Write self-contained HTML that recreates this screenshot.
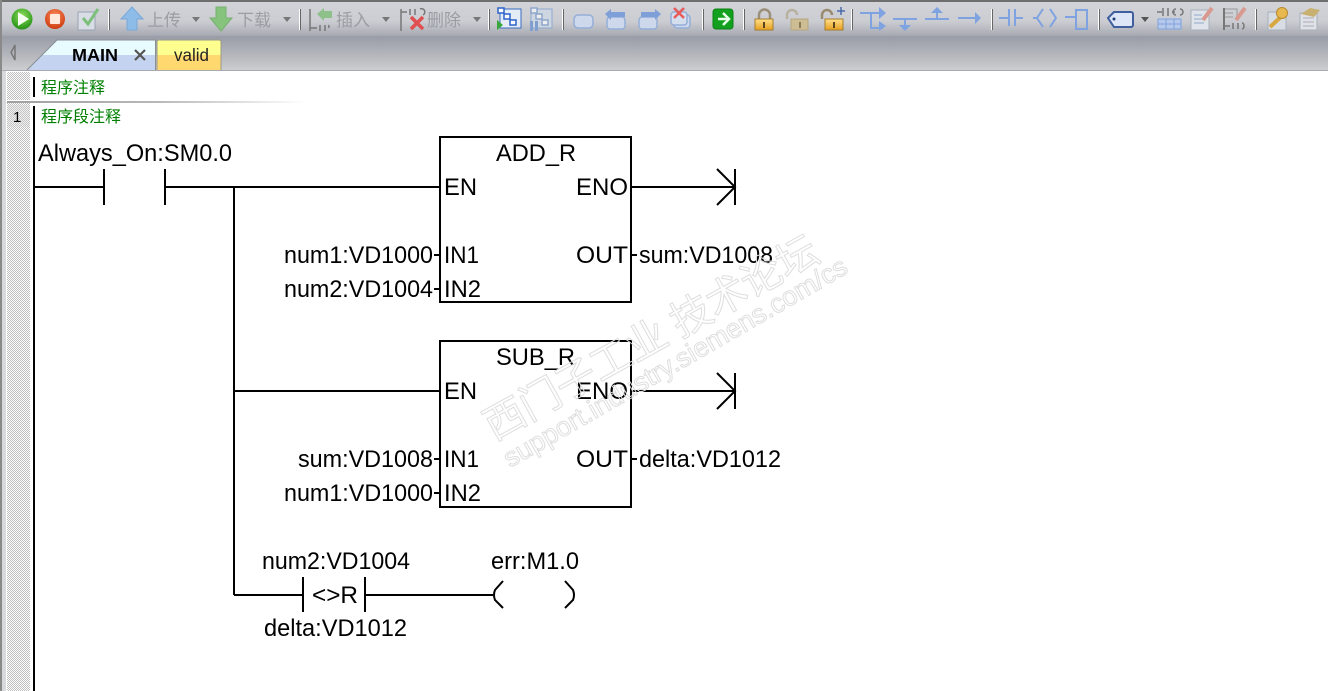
<!DOCTYPE html>
<html><head><meta charset="utf-8"><style>
html,body{margin:0;padding:0;background:#fff;width:1328px;height:691px;overflow:hidden}
svg{display:block}
.t{font-family:"Liberation Sans",sans-serif;font-size:23.7px;fill:#000}
.g{font-family:"Liberation Sans","Noto Sans CJK SC",sans-serif;font-size:16px;fill:#008000}
.c{font-family:"Liberation Sans","Noto Sans CJK SC",sans-serif;font-size:17px;fill:#9a9da3}
.w{fill:none;stroke:#dedede;stroke-width:1}
.l{fill:none;stroke:#7ea3e0;stroke-width:2}
</style></head><body>
<svg xmlns="http://www.w3.org/2000/svg" width="1328" height="691" viewBox="0 0 1328 691">
<defs>
<linearGradient id="tb" x1="0" y1="0" x2="0" y2="1">
<stop offset="0" stop-color="#d2d4d9"/><stop offset=".3" stop-color="#cbcdd2"/><stop offset=".49" stop-color="#a9acb4"/><stop offset=".52" stop-color="#999da7"/><stop offset=".8" stop-color="#b7b9be"/><stop offset="1" stop-color="#cdcfd1"/>
</linearGradient>
<linearGradient id="sep" x1="0" y1="0" x2="1" y2="0"><stop offset="0" stop-color="#a0a0a0"/><stop offset=".5" stop-color="#b8b8b8"/><stop offset="1" stop-color="#fff"/></linearGradient>
<pattern id="chk" width="2" height="2" patternUnits="userSpaceOnUse"><rect width="2" height="2" fill="#fff"/><rect width="1" height="1" fill="#bdbdbd"/><rect x="1" y="1" width="1" height="1" fill="#bdbdbd"/></pattern>
<radialGradient id="gr" cx=".5" cy=".35" r=".7"><stop offset="0" stop-color="#8ee05a"/><stop offset="1" stop-color="#1c8a12"/></radialGradient>
<radialGradient id="rd" cx=".5" cy=".35" r=".7"><stop offset="0" stop-color="#ff9060"/><stop offset="1" stop-color="#c83208"/></radialGradient>
<linearGradient id="lock" x1="0" y1="0" x2="0" y2="1"><stop offset="0" stop-color="#ffe08a"/><stop offset="1" stop-color="#e8a020"/></linearGradient>
</defs>

<!-- toolbar -->
<rect x="0" y="0" width="1328" height="71" fill="url(#tb)"/>
<rect x="0" y="0" width="1328" height="2" fill="#6e6e6e"/>
<rect x="0" y="70" width="1328" height="1" fill="#a8aab0"/>
<rect x="0" y="71" width="6" height="620" fill="#d8d9dc"/>
<rect x="0" y="0" width="2" height="691" fill="#8a8a8a"/>

<!-- separators -->
<g fill="#fff"><rect x="108" y="9" width="1" height="21"/><rect x="299" y="9" width="1" height="21"/><rect x="488" y="9" width="1" height="21"/><rect x="562" y="9" width="1" height="21"/><rect x="702" y="9" width="1" height="21"/><rect x="743" y="9" width="1" height="21"/><rect x="851" y="9" width="1" height="21"/><rect x="991" y="9" width="1" height="21"/><rect x="1098" y="9" width="1" height="21"/><rect x="1255" y="9" width="1" height="21"/></g>
<g fill="#666"><rect x="109" y="9" width="1" height="21"/><rect x="300" y="9" width="1" height="21"/><rect x="489" y="9" width="1" height="21"/><rect x="563" y="9" width="1" height="21"/><rect x="703" y="9" width="1" height="21"/><rect x="744" y="9" width="1" height="21"/><rect x="852" y="9" width="1" height="21"/><rect x="992" y="9" width="1" height="21"/><rect x="1099" y="9" width="1" height="21"/><rect x="1256" y="9" width="1" height="21"/></g>

<!-- run/stop/check -->
<circle cx="22" cy="19" r="10.5" fill="url(#gr)"/><polygon points="18,12 29,19 18,26" fill="#f4fff0"/>
<circle cx="55" cy="19" r="10" fill="url(#rd)"/><rect x="50" y="14" width="10" height="10" rx="1" fill="#ffe8dc"/>
<rect x="78" y="12" width="17" height="18" fill="#d8dde6" stroke="#9aa3b2"/><path d="M83 18l5 6 10-15" fill="none" stroke="#7cc07c" stroke-width="3"/>

<!-- upload / download -->
<path d="M132 7l11 12h-6v11h-10V19h-6z" fill="#8dbce8" stroke="#7aa8d8"/>
<text class="c" x="147" y="26" textLength="34">上传</text>
<polygon points="192,17 200,17 196,22" fill="#777"/>
<path d="M221 31l11-13h-6V7h-10v11h-6z" fill="#86c47e" stroke="#78b070"/>
<text class="c" x="237" y="26" textLength="34">下载</text>
<polygon points="283,17 291,17 287,22" fill="#777"/>

<!-- insert -->
<g stroke="#777" stroke-width="1.5" fill="none"><path d="M310 9v22M310 28h7M320 25v6M325 25v6M329 28a2 3 0 0 1 0-3"/></g>
<path d="M317 14l7-6v3h8v7h-8v3z" fill="#8ec08a"/>
<text class="c" x="336" y="26" textLength="34">插入</text>
<polygon points="382,17 390,17 386,22" fill="#777"/>
<!-- delete -->
<g stroke="#777" stroke-width="1.5" fill="none"><path d="M401 9v22M401 12h6M410 9v6M415 9v6M420 9a3 3 0 0 1 3 6"/></g>
<path d="M411 17l12 12M423 17l-12 12" stroke="#e05050" stroke-width="3.5"/>
<text class="c" x="427" y="26" textLength="34">删除</text>
<polygon points="473,17 481,17 477,22" fill="#777"/>

<!-- network icons -->
<rect x="500" y="9" width="21" height="19" fill="#e4ecf6" stroke="#3a6cc4"/><g fill="#fff" stroke="#2c62cc" stroke-width="1.5"><rect x="498" y="8" width="6" height="5"/><rect x="504" y="14" width="6" height="5"/><rect x="510" y="20" width="6" height="5"/></g><polygon points="497,20 503,25 497,30" fill="#38a838"/>
<rect x="531" y="9" width="21" height="19" fill="#ced6e2" stroke="#90a8d0"/><g fill="#eee" stroke="#8ea6cc" stroke-width="1.5"><rect x="531" y="8" width="6" height="5"/><rect x="536" y="14" width="6" height="5"/><rect x="542" y="20" width="6" height="5"/></g><rect x="530" y="21" width="3" height="10" fill="#7f9fd0"/><rect x="535" y="21" width="3" height="10" fill="#7f9fd0"/>

<rect x="574" y="15" width="19" height="13" rx="4" fill="#cdd8ec" stroke="#94aed8" stroke-width="1.5"/>
<rect x="607" y="17" width="18" height="12" rx="3" fill="#cdd8ec" stroke="#94aed8" stroke-width="1.5"/><path d="M605 14l6-5v3h14v5h-14v3z" fill="#7f9fd8"/>
<rect x="639" y="17" width="18" height="12" rx="3" fill="#cdd8ec" stroke="#94aed8" stroke-width="1.5"/><path d="M661 14l-6-5v3h-14v5h14v3z" fill="#7f9fd8"/>
<rect x="674" y="15" width="16" height="13" rx="3" fill="#cdd8ec" stroke="#94aed8" stroke-width="1.5"/><rect x="671" y="12" width="16" height="13" rx="3" fill="#d4deef" stroke="#94aed8" stroke-width="1.5"/><path d="M674 8l10 10M684 8l-10 10" stroke="#e65a5a" stroke-width="2.5"/>

<rect x="713" y="9" width="20" height="20" rx="3" fill="#12a01e" stroke="#0b8214"/><path d="M718 19h10M723 13l6 6-6 6" fill="none" stroke="#e8ffe8" stroke-width="2.5"/>

<!-- locks -->
<path d="M759 20v-5a5.500 5.500 0 0 1 11 0v5" fill="none" stroke="#9a8f78" stroke-width="2.500"/><rect x="755" y="19" width="18" height="11" fill="url(#lock)" stroke="#a67c2c"/><rect x="763" y="22" width="2" height="6" fill="#5a4520"/>
<path d="M787 19v-4a5 5 0 0 1 10 0" fill="none" stroke="#b8b0a0" stroke-width="2.500"/><rect x="791" y="19" width="17" height="11" fill="#cdbd92" stroke="#b8a880"/><rect x="799" y="22" width="2" height="6" fill="#8a7a5a"/>
<path d="M822 19v-4a5 5 0 0 1 10 0" fill="none" stroke="#9a8a70" stroke-width="2.500"/><rect x="825" y="19" width="18" height="11" fill="url(#lock)" stroke="#a67c2c"/><rect x="833" y="22" width="2" height="6" fill="#5a4520"/><path d="M837 11h8M841 7v8" stroke="#4a6aa8" stroke-width="1.500"/>

<!-- ladder tools -->
<path d="M860 13h24M871 13v15h12" class="l"/><polygon points="879,7 886,13 879,19" fill="#7ea3e0"/><polygon points="879,21 886,26 879,31" fill="#7ea3e0"/>
<path d="M893 19h24M905 19v8" class="l"/><polygon points="899,25 911,25 905,31" fill="#7ea3e0"/>
<path d="M925 19h24M937 12v7" class="l"/><polygon points="931,13 943,13 937,7" fill="#7ea3e0"/>
<path d="M958 18h20" class="l"/><polygon points="975,12 981,18 975,24" fill="#7ea3e0"/>
<path d="M999 18h10M1009 9v17M1015 9v17M1015 18h8" class="l"/>
<path d="M1033 18h4M1043 9l-6 9 6 9M1050 9l6 9-6 9" class="l"/>
<path d="M1065 17h11M1076 10h11v19h-11z" class="l"/>

<!-- tag -->
<path d="M1108 18l6-6h17a2 2 0 0 1 2 2v11a2 2 0 0 1-2 2h-17z" fill="#dce6f6" stroke="#3e5e9e" stroke-width="2"/><circle cx="1114" cy="19" r="1.500" fill="#203c7a"/>
<polygon points="1141,17 1149,17 1145,22" fill="#555"/>
<!-- symbol table -->
<g stroke="#777" stroke-width="1.500" fill="none"><path d="M1157 12h5M1163 8v8M1168 8v8M1172 12h3M1176 9a3 3 0 0 0 0 6M1180 9a3 3 0 0 1 0 6"/></g>
<rect x="1158" y="19" width="23" height="10" fill="#b7c8ea" stroke="#7ea3e0"/><path d="M1158 24h23M1166 19v10M1174 19v10" stroke="#7ea3e0"/>
<!-- notes -->
<rect x="1191" y="10" width="18" height="20" fill="#dfe4ea" stroke="#a8b0ba"/><path d="M1194 15h8M1194 19h10M1194 23h10" stroke="#90a8cc"/><path d="M1203 20l9-12" stroke="#d89a90" stroke-width="4"/>
<path d="M1225 9h12v8M1225 13h8M1225 17h8" stroke="#999" fill="none"/><path d="M1224 8v22" stroke="#777" stroke-width="2"/><path d="M1225 26h5M1233 23v6M1238 23v6M1242 23a2 3 0 0 1 0 6" stroke="#777" fill="none" stroke-width="1.500"/><path d="M1236 20l9-12" stroke="#d89a90" stroke-width="4"/>
<!-- key & doc -->
<rect x="1268" y="12" width="18" height="18" fill="#d8dde4" stroke="#a8b0ba"/><path d="M1270 27l14-13" stroke="#d8a840" stroke-width="4"/><circle cx="1282" cy="13" r="5.500" fill="#e6b84e" stroke="#b88a30"/>
<rect x="1300" y="13" width="17" height="17" fill="#dfe2e6" stroke="#a8b0ba"/><path d="M1303 18h11M1303 22h11M1303 26h11" stroke="#aab"/><path d="M1301 14l9-6 10 2-6 7z" fill="#c8b070"/>

<!-- tabs -->
<polygon points="15,45 15,60 11,52.500" fill="none" stroke="#777" stroke-width="1.500"/>
<polygon points="27,70 57,40 156,40 156,70" fill="#c4d4f0"/>
<polygon points="42,55 57,40 156,40 156,55" fill="#e8fbff"/>
<path d="M27 70L57 40H155.500V70" fill="none" stroke="#8a8d94"/>
<text x="72" y="61" font-family="Liberation Sans,sans-serif" font-weight="700" font-size="17.500" fill="#000" textLength="46" lengthAdjust="spacingAndGlyphs">MAIN</text>
<path d="M135 50l10 10M145 50l-10 10" stroke="#555" stroke-width="2.200"/>
<rect x="157" y="40" width="64" height="15" fill="#ffff90"/><rect x="157" y="55" width="64" height="15" fill="#ffd870"/>
<path d="M157 70V42q0-2 2-2H219q2 0 2 2V70" fill="none" stroke="#9a9a88"/>
<text x="174" y="61" font-family="Liberation Sans,sans-serif" font-size="17.500" fill="#222" textLength="35" lengthAdjust="spacingAndGlyphs">valid</text>

<!-- left strip -->
<rect x="7" y="72" width="23" height="619" fill="url(#chk)"/>
<rect x="30" y="72" width="3" height="619" fill="#fff"/>
<rect x="7" y="100" width="300" height="3" fill="#fff"/>
<rect x="7" y="101" width="300" height="2" fill="url(#sep)"/>
<rect x="7" y="105" width="23" height="22" fill="#d4d4d4" fill-opacity=".35"/>
<text x="13" y="122" font-family="Liberation Sans,sans-serif" font-size="15" fill="#000">1</text>
<rect x="33" y="77" width="2" height="20" fill="#000"/>
<rect x="33" y="106" width="2" height="585" fill="#000"/>
<text class="g" x="41" y="93" textLength="64">程序注释</text>
<text class="g" x="41" y="122" textLength="80">程序段注释</text>

<!-- ladder lines -->
<g fill="none" stroke="#000" stroke-width="2" shape-rendering="crispEdges">
<path d="M34 187H104M104 169V205M165 169V205M165 187H440"/>
<path d="M234 187V595"/>
<path d="M234 391H440"/>
<rect x="440" y="137" width="191" height="165"/>
<rect x="440" y="341" width="191" height="166"/>
<path d="M631 187H735M735 169V205"/>
<path d="M631 391H735M735 373V409"/>
<path d="M434 255H440M434 289H440M631 255H637"/>
<path d="M434 459H440M434 493H440M631 459H637"/>
<path d="M234 595H303M303 577V612M365 577V612M365 595H493"/>
</g>
<g fill="none" stroke="#000" stroke-width="2">
<path d="M717 169L735 187L717 205"/>
<path d="M717 373L735 391L717 409"/>
<path d="M503 581L495 590Q493 595 495 600L503 608"/>
<path d="M565 581L573 590Q575 595 573 600L565 608"/>
</g>

<!-- ladder text -->
<g lengthAdjust="spacingAndGlyphs">
<text class="t" x="38" y="161" textLength="194" lengthAdjust="spacingAndGlyphs">Always_On:SM0.0</text>
<text class="t" x="496" y="161" textLength="80" lengthAdjust="spacingAndGlyphs">ADD_R</text>
<text class="t" x="444" y="195" textLength="33" lengthAdjust="spacingAndGlyphs">EN</text>
<text class="t" x="576" y="195" textLength="52" lengthAdjust="spacingAndGlyphs">ENO</text>
<text class="t" x="284" y="263" textLength="149" lengthAdjust="spacingAndGlyphs">num1:VD1000</text>
<text class="t" x="444" y="263" textLength="35" lengthAdjust="spacingAndGlyphs">IN1</text>
<text class="t" x="576" y="263" textLength="52" lengthAdjust="spacingAndGlyphs">OUT</text>
<text class="t" x="639" y="263" textLength="134" lengthAdjust="spacingAndGlyphs">sum:VD1008</text>
<text class="t" x="284" y="297" textLength="149" lengthAdjust="spacingAndGlyphs">num2:VD1004</text>
<text class="t" x="444" y="297" textLength="37" lengthAdjust="spacingAndGlyphs">IN2</text>

<text class="t" x="496" y="365" textLength="79" lengthAdjust="spacingAndGlyphs">SUB_R</text>
<text class="t" x="444" y="399" textLength="33" lengthAdjust="spacingAndGlyphs">EN</text>
<text class="t" x="576" y="399" textLength="52" lengthAdjust="spacingAndGlyphs">ENO</text>
<text class="t" x="298" y="467" textLength="135" lengthAdjust="spacingAndGlyphs">sum:VD1008</text>
<text class="t" x="444" y="467" textLength="35" lengthAdjust="spacingAndGlyphs">IN1</text>
<text class="t" x="576" y="467" textLength="52" lengthAdjust="spacingAndGlyphs">OUT</text>
<text class="t" x="639" y="467" textLength="142" lengthAdjust="spacingAndGlyphs">delta:VD1012</text>
<text class="t" x="284" y="501" textLength="149" lengthAdjust="spacingAndGlyphs">num1:VD1000</text>
<text class="t" x="444" y="501" textLength="37" lengthAdjust="spacingAndGlyphs">IN2</text>

<text class="t" x="262" y="569" textLength="148" lengthAdjust="spacingAndGlyphs">num2:VD1004</text>
<text class="t" x="491" y="569" textLength="88" lengthAdjust="spacingAndGlyphs">err:M1.0</text>
<text class="t" x="312" y="603" textLength="46" lengthAdjust="spacingAndGlyphs">&lt;&gt;R</text>
<text class="t" x="264" y="636" textLength="143" lengthAdjust="spacingAndGlyphs">delta:VD1012</text>
</g>

<!-- watermark -->
<text class="w" transform="translate(494,441) rotate(-29)" font-family="Liberation Sans,Noto Sans CJK SC,sans-serif" font-size="41" textLength="375">西门子工业 技术论坛</text>
<text class="w" transform="translate(510,468) rotate(-30)" font-family="Liberation Sans,sans-serif" font-size="27" textLength="392" lengthAdjust="spacingAndGlyphs">support.industry.siemens.com/cs</text>
</svg>
</body></html>
